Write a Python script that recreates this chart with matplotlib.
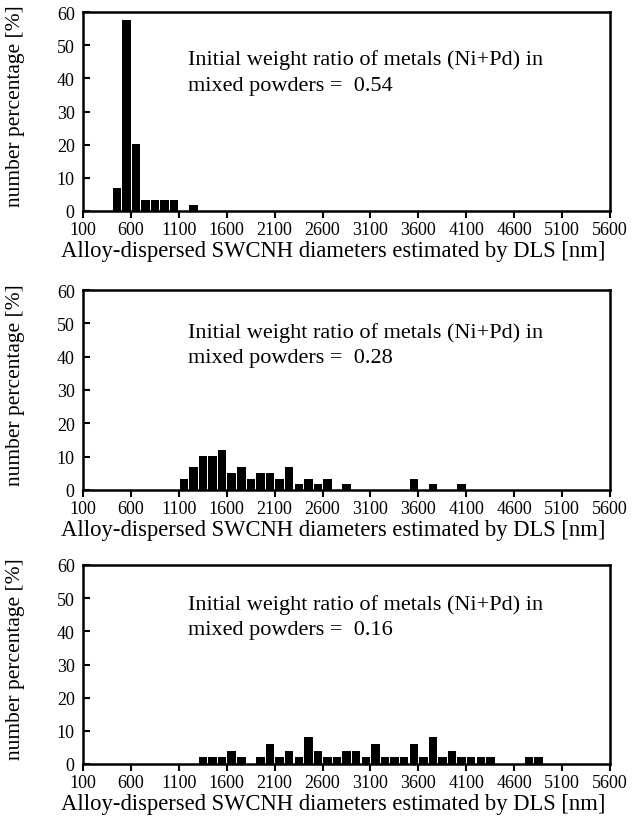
import numpy as np
import matplotlib.pyplot as plt

# bin left edges [nm] and number percentage [%] for each sample
bins_054 = [400, 500, 600, 700, 800, 900, 1000, 1200]
pct_054 = [6.8, 57.6, 20.3, 3.4, 3.4, 3.4, 3.4, 1.7]

bins_028 = [1100, 1200, 1300, 1400, 1500, 1600, 1700, 1800, 1900, 2000,
            2100, 2200, 2300, 2400, 2500, 2600, 2800, 3500, 3700, 4000]
pct_028 = [3.4, 6.8, 10.2, 10.2, 11.9, 5.1, 6.8, 3.4, 5.1, 5.1,
           3.4, 6.8, 1.7, 3.4, 1.7, 3.4, 1.7, 3.4, 1.7, 1.7]

bins_016 = [1300, 1400, 1500, 1600, 1700, 1900, 2000, 2100, 2200, 2300,
            2400, 2500, 2600, 2700, 2800, 2900, 3000, 3100, 3200, 3300,
            3400, 3500, 3600, 3700, 3800, 3900, 4000, 4100, 4200, 4300,
            4700, 4800]
pct_016 = [2, 2, 2, 4, 2, 2, 6, 2, 4, 2,
           8, 4, 2, 2, 4, 4, 2, 6, 2, 2,
           2, 6, 2, 8, 2, 4, 2, 2, 2, 2,
           2, 2]

ratios = ['0.54', '0.28', '0.16']
xticks = list(range(100, 5601, 500))

plt.rcParams['font.family'] = ['Liberation Serif', 'DejaVu Serif']

fig = plt.figure(figsize=(6.37, 8.2), dpi=100)
W, H = 637, 820
# axes boxes in pixels: left, top, right, bottom
boxes = [(83, 13, 610, 212), (83, 291, 610, 491), (83, 566, 610, 765)]
data = [(bins_054, pct_054), (bins_028, pct_028), (bins_016, pct_016)]
text_off = [47, 42, 39]  # first annotation line, px below the top of the box

for (l, t, r, b), (bins, pct), ratio, off in zip(boxes, data, ratios, text_off):
    ax = fig.add_axes([l / W, 1 - b / H, (r - l) / W, (b - t) / H])
    h = b - t
    ax.bar(np.array(bins) + 52, pct, width=88, color='black')
    ax.set_xlim(100, 5600)
    ax.set_ylim(0, 60)
    ax.set_xticks(xticks)
    ax.set_yticks(range(0, 61, 10))
    ax.tick_params(axis='x', direction='out', length=5, width=1.5, labelsize=13, pad=2)
    ax.tick_params(axis='y', direction='in', length=5, width=1.5, labelsize=13, pad=6)
    for s in ax.spines.values():
        s.set_linewidth(1.8)
    # x label placed by hand: slightly left of centre, like the original
    ax.set_xlabel('Alloy-dispersed SWCNH diameters estimated by DLS [nm]',
                  fontsize=16.3)
    ax.xaxis.set_label_coords((333 - l) / (r - l), -50 / h)
    ax.xaxis.label.set_va('bottom')
    ax.set_ylabel('number percentage [%]', fontsize=15.5)
    ax.yaxis.set_label_coords((25 - l) / (r - l), 0.53)
    ax.text(0.2, 1 - off / h, 'Initial weight ratio of metals (Ni+Pd) in',
            transform=ax.transAxes, fontsize=16, va='center', ha='left')
    ax.text(0.2, 1 - (off + 26) / h, 'mixed powders =  ' + ratio,
            transform=ax.transAxes, fontsize=16, va='center', ha='left')

fig.savefig('out.png', dpi=100)
